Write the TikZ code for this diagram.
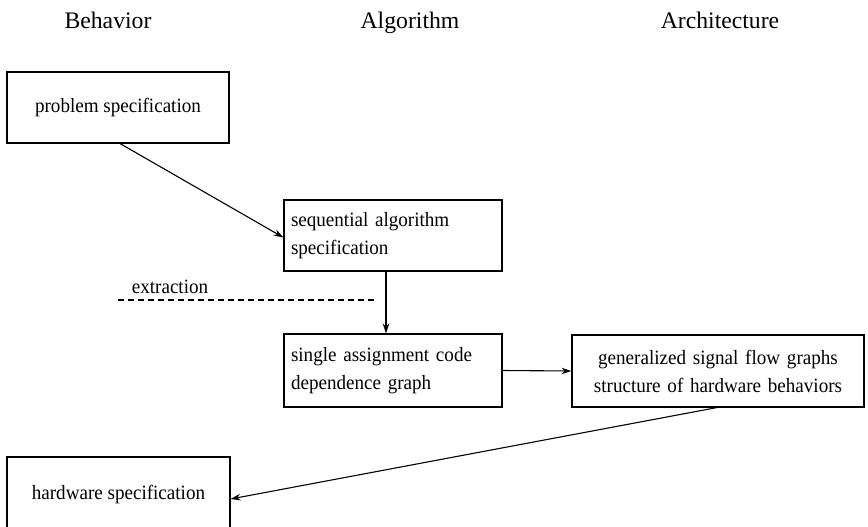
\documentclass[tikz,border=0pt]{standalone}
\usepackage{fontspec}
\setmainfont{Liberation Serif}
\newfontfamily\stagefont[FakeStretch=0.94]{Liberation Serif}
\usetikzlibrary{arrows.meta}

\tikzset{
  heading/.style={anchor=base, font=\fontsize{23.7}{28}\selectfont},
  stagebox/.style={draw, line width=1.1pt, inner xsep=7pt, inner ysep=0pt,
    font=\stagefont\fontsize{20.3}{28}\selectfont},
  flow/.style={line width=1.1pt, -{Stealth[length=10pt,width=6.5pt]}},
  cut/.style={line width=1.1pt, dash pattern=on 5.5pt off 4.5pt},
}

\begin{document}
\begin{tikzpicture}[x=1pt, y=-1pt]
\useasboundingbox (0,0) rectangle (868,527);

% column headings
\node[heading] (hbeh) at (108,28.5) {Behavior};
\node[heading] (halg) at (410,28.5) {Algorithm};
\node[heading] (harc) at (720,28.5) {Architecture};

% design stages
\node[stagebox, minimum width=222pt, minimum height=71pt, align=center]
  (prob) at (118,107.5) {problem specification};
\node[stagebox, text width=204pt, minimum height=71pt, align=left]
  (seq) at (393,235.5) {sequential algorithm\\specification};
\node[stagebox, text width=204pt, minimum height=73pt, align=left]
  (sac) at (393,370.5) {single assignment code\\dependence graph};
\node[stagebox, text width=278pt, minimum height=72pt, align=center]
  (sfg) at (718,371) {generalized signal flow graphs\\structure of hardware behaviors};
\node[stagebox, minimum width=223pt, minimum height=76pt, align=center]
  (hw) at (118.5,495) {hardware specification};

% extraction boundary
\coordinate (cutL) at (118,300);
\coordinate (cutR) at (377,300);
\draw[cut] (cutL) -- (cutR);
\node[font=\stagefont\fontsize{20.3}{24}\selectfont, anchor=base] (extr) at (170,293) {extraction};

% transformations
\draw[flow] ([xshift=2pt]prob.south) -- ([yshift=-2pt]seq.west);
\draw[flow] ([xshift=-7pt]seq.south) -- ([xshift=-7pt]sac.north);
\draw[flow] (sac.east) -- (sfg.west);
\draw[flow] ([xshift=-1pt]sfg.south) -- ([yshift=-4pt]hw.east);
\end{tikzpicture}
\end{document}
